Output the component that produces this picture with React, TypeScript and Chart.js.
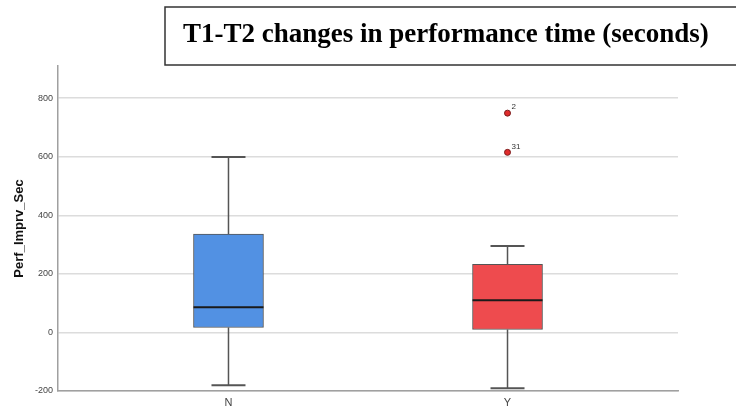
import React, { useEffect, useRef } from "react";
import { Chart, registerables } from "chart.js";

Chart.register(...registerables);

const chartTitle = "T1-T2 changes in performance time (seconds)";
const yAxisTitle = "Perf_Imprv_Sec";
const categories = ["N", "Y"];
const whiskerLow = [-180, -191];
const q1 = [17, 10];
const median = [86, 110];
const q3 = [336, 233];
const whiskerHigh = [599, 295];
const boxColors = ["#5291E3", "#EE4B4E"];
const outlierCategory = ["Y", "Y"];
const outlierValues = [749, 615];
const outlierLabels = ["2", "31"];
const yTicks = [-200, 0, 200, 400, 600, 800];

export default function App() {
  const ref = useRef<HTMLCanvasElement | null>(null);

  useEffect(() => {
    const canvas = ref.current;
    if (!canvas) return;
    const idx = (c: string) => categories.indexOf(c);

    const whiskerData: any[] = [];
    categories.forEach((c, i) => {
      whiskerData.push({ x: i, y: q3[i] }, { x: i, y: whiskerHigh[i] }, { x: i, y: null });
      whiskerData.push({ x: i, y: q1[i] }, { x: i, y: whiskerLow[i] }, { x: i, y: null });
    });

    const titlePlugin = {
      id: "titleBox",
      afterDraw(chart: any) {
        const ctx = chart.ctx;
        ctx.save();
        ctx.strokeStyle = "#333";
        ctx.lineWidth = 1.5;
        ctx.fillStyle = "#fff";
        ctx.fillRect(165, 7, 580, 58);
        ctx.strokeRect(165, 7, 580, 58);
        ctx.fillStyle = "#000";
        ctx.font = "bold 27px 'Liberation Serif', 'Times New Roman', serif";
        ctx.textBaseline = "alphabetic";
        ctx.textAlign = "left";
        ctx.fillText(chartTitle, 183, 42);
        ctx.restore();
      },
    };

    const labelPlugin = {
      id: "outlierLabels",
      afterDatasetsDraw(chart: any) {
        const ctx = chart.ctx;
        const meta = chart.getDatasetMeta(4);
        ctx.save();
        ctx.fillStyle = "#333";
        ctx.font = "8px 'Liberation Sans', Arial, sans-serif";
        ctx.textBaseline = "middle";
        ctx.textAlign = "left";
        meta.data.forEach((el: any, i: number) => {
          ctx.fillText(outlierLabels[i], el.x + 4, el.y - 6);
        });
        ctx.restore();
      },
    };

    const chart = new Chart(canvas, {
      type: "bar",
      data: {
        datasets: [
          {
            type: "bar",
            data: categories.map((c, i) => ({ x: i, y: [q1[i], q3[i]] })) as any,
            backgroundColor: boxColors,
            borderColor: "#555",
            borderWidth: 1,
            borderSkipped: false,
            barThickness: 70,
            order: 2,
          } as any,
          {
            type: "line",
            data: whiskerData,
            borderColor: "#555",
            borderWidth: 1.5,
            pointRadius: 0,
            spanGaps: false,
            order: 3,
          } as any,
          {
            type: "scatter",
            data: categories.map((c, i) => ({ x: i, y: median[i] })),
            pointStyle: "line",
            pointRadius: 35,
            pointBorderWidth: 2,
            pointBorderColor: "#1a1a1a",
            order: 1,
          } as any,
          {
            type: "scatter",
            data: categories.flatMap((c, i) => [
              { x: i, y: whiskerHigh[i] },
              { x: i, y: whiskerLow[i] },
            ]),
            pointStyle: "line",
            pointRadius: 17,
            pointBorderWidth: 2,
            pointBorderColor: "#555",
            order: 1,
          } as any,
          {
            type: "scatter",
            data: outlierValues.map((v, i) => ({ x: idx(outlierCategory[i]), y: v })),
            pointStyle: "circle",
            pointRadius: 3,
            pointBackgroundColor: "#E02B2B",
            pointBorderColor: "#7a1d1d",
            pointBorderWidth: 1,
            order: 0,
          } as any,
        ],
      },
      options: {
        animation: false,
        responsive: false,
        maintainAspectRatio: false,
        events: [],
        layout: { padding: { left: 0, right: 58, top: 66, bottom: 0 } },
        plugins: { legend: { display: false }, tooltip: { enabled: false }, title: { display: false } },
        scales: {
          x: {
            type: "linear",
            offset: false,
            min: -0.611,
            max: 1.611,
            afterBuildTicks: (s: any) => {
              s.ticks = categories.map((c, i) => ({ value: i }));
            },
            afterFit: (s: any) => {
              s.height = 26;
            },
            grid: { display: false, drawTicks: false },
            border: { color: "#a0a0a0", width: 1.5 },
            ticks: {
              padding: 5,
              color: "#444",
              font: { size: 11, family: "'Liberation Sans', Arial, sans-serif" },
              callback: (v: any) => categories[v] ?? "",
            },
          },
          y: {
            type: "linear",
            min: -200,
            max: 910,
            afterBuildTicks: (s: any) => {
              s.ticks = yTicks.map((v) => ({ value: v }));
            },
            afterFit: (s: any) => {
              s.width = 58;
            },
            grid: { color: "#dcdcdc", lineWidth: 1.5, drawTicks: false },
            border: { color: "#a0a0a0", width: 1.5 },
            ticks: {
              padding: 5,
              color: "#444",
              font: { size: 9, family: "'Liberation Sans', Arial, sans-serif" },
            },
            title: {
              display: true,
              text: yAxisTitle,
              color: "#111",
              padding: { top: 12, bottom: 0 },
              font: { size: 13, weight: "bold", family: "'Liberation Sans', Arial, sans-serif" },
            },
          },
        },
      },
      plugins: [labelPlugin, titlePlugin],
    } as any);

    return () => chart.destroy();
  }, []);

  return (
    <div style={{ position: "absolute", left: 0, top: 0, width: 736, height: 417, overflow: "hidden", background: "#fff" }}>
      <canvas ref={ref} width={736} height={428} style={{ width: 736, height: 428, display: "block" }} />
    </div>
  );
}
